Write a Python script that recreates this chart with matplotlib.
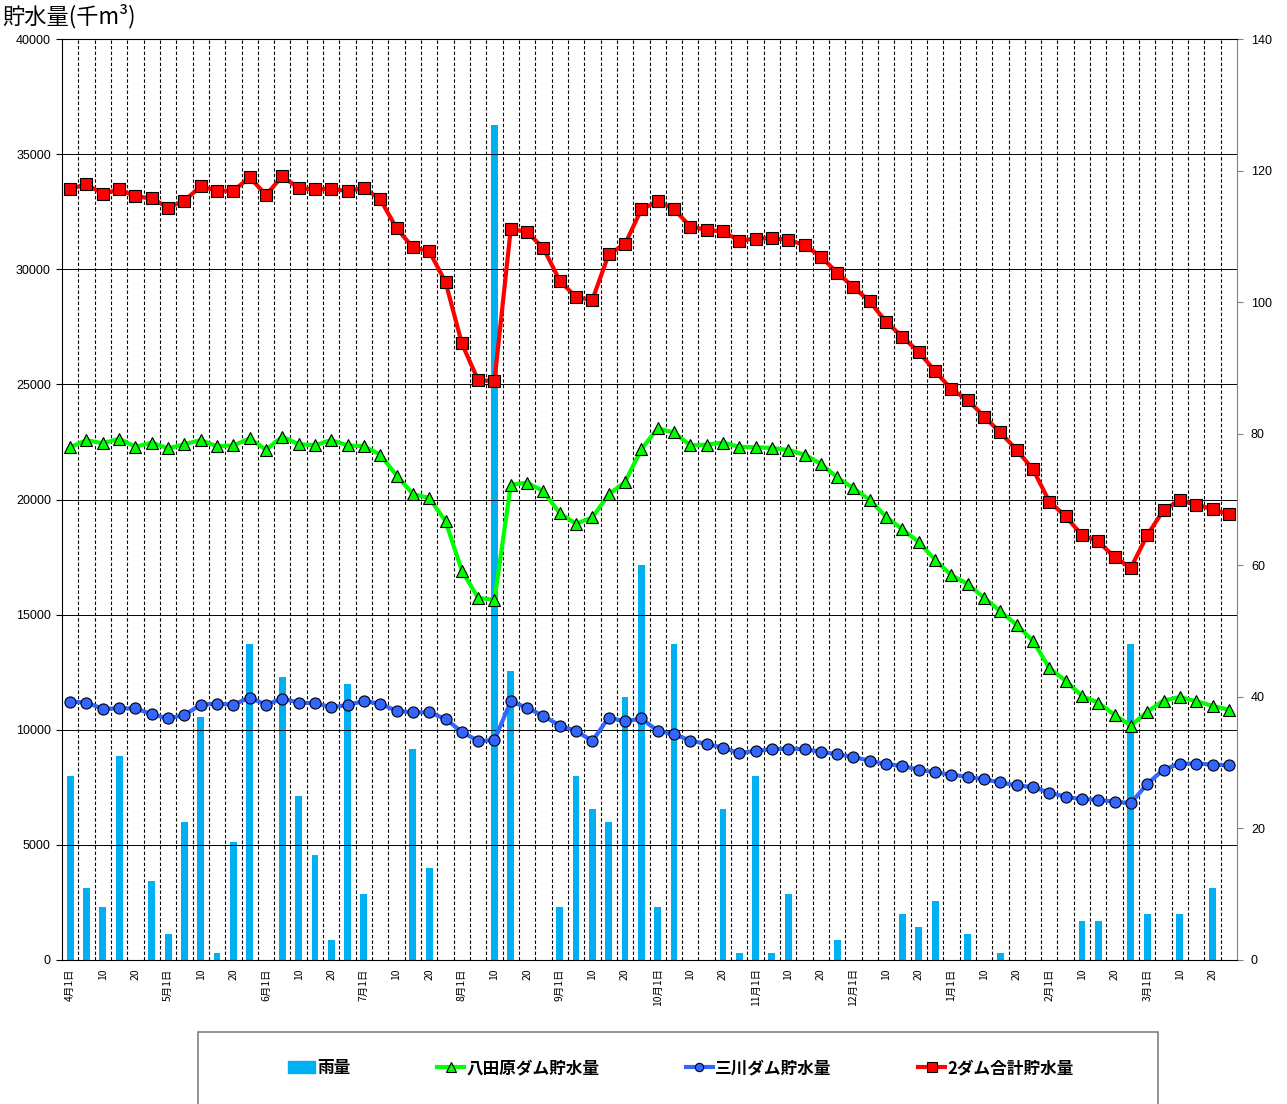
"""
Dam storage (Hattabara / Mikawa / total) and 5-day rainfall, April - March.
"""
import numpy as np
import matplotlib
matplotlib.use('Agg')
import matplotlib.pyplot as plt
from matplotlib.patches import Patch, Rectangle
from matplotlib.lines import Line2D

plt.rcParams['font.family'] = ['Liberation Sans', 'Noto Sans CJK JP']
JP = ['Noto Sans CJK JP', 'DejaVu Sans']

# Data: one value every 5 days (1, 5, 10, 15, 20, 25) from April 1
months = [4, 5, 6, 7, 8, 9, 10, 11, 12, 1, 2, 3]
day_labels = ['1日', '', '10', '', '20', '']

# 2ダム合計貯水量 (千m3)
total = [33490, 33690, 33270, 33470, 33160, 33090, 32670, 32980, 33600, 33420, 33400, 34000,
         33220, 34050, 33510, 33470, 33490, 33400, 33530, 33040, 31780, 30950, 30780, 29450,
         26780, 25180, 25150, 31760, 31620, 30910, 29510, 28780, 28670, 30650, 31090, 32600,
         32950, 32620, 31850, 31710, 31640, 31240, 31330, 31350, 31270, 31050, 30550, 29850,
         29220, 28600, 27710, 27070, 26400, 25580, 24780, 24330, 23600, 22910, 22150, 21310,
         19910, 19270, 18450, 18180, 17490, 17040, 18450, 19540, 19960, 19780, 19580, 19350]

# 八田原ダム貯水量 (千m3)
hattabara = [22270, 22580, 22440, 22640, 22290, 22470, 22220, 22400, 22580, 22310, 22350, 22650,
             22160, 22730, 22400, 22360, 22580, 22350, 22310, 21950, 21040, 20240, 20070, 19060,
             16910, 15730, 15640, 20640, 20730, 20360, 19400, 18950, 19220, 20220, 20760, 22180,
             23090, 22910, 22350, 22380, 22470, 22290, 22270, 22240, 22150, 21950, 21550, 20960,
             20490, 19980, 19240, 18710, 18150, 17380, 16710, 16330, 15730, 15150, 14550, 13860,
             12670, 12130, 11460, 11180, 10640, 10180, 10780, 11270, 11420, 11240, 11040, 10870]

# 三川ダム貯水量 (千m3)
mikawa = [11220, 11180, 10910, 10930, 10930, 10670, 10490, 10640, 11090, 11130, 11090, 11400,
          11090, 11350, 11180, 11150, 10980, 11070, 11250, 11130, 10820, 10750, 10760, 10470,
          9910, 9510, 9550, 11240, 10950, 10600, 10180, 9950, 9510, 10530, 10360, 10490,
          9950, 9800, 9530, 9380, 9220, 8980, 9090, 9150, 9180, 9150, 9050, 8930,
          8820, 8650, 8510, 8420, 8270, 8150, 8050, 7950, 7850, 7710, 7580, 7510,
          7270, 7090, 6980, 6960, 6870, 6820, 7650, 8270, 8530, 8530, 8490, 8450]

# 雨量 (mm)
rain = [28, 11, 8, 31, 0, 12, 4, 21, 37, 1, 18, 48,
        0, 43, 25, 16, 3, 42, 10, 0, 0, 32, 14, 0,
        0, 0, 127, 44, 0, 0, 8, 28, 23, 21, 40, 60,
        8, 48, 0, 0, 23, 1, 28, 1, 10, 0, 0, 3,
        0, 0, 0, 7, 5, 9, 0, 4, 0, 1, 0, 0,
        0, 0, 6, 6, 0, 48, 7, 0, 7, 0, 11, 0]

xlabels = []
for m in months:
    xlabels += [f'{m}月1日' if d == '1日' else d for d in day_labels]

x = np.arange(len(total))

W, H = 1287, 1104
fig = plt.figure(figsize=(W / 100, H / 100), dpi=100)
ax = fig.add_axes([62 / W, 1 - 960 / H, 1175 / W, 921 / H])
ax_r = ax.twinx()
ax.set_zorder(ax_r.get_zorder() + 1)
ax.patch.set_visible(False)

# rainfall bars on the right axis
ax_r.bar(x, rain, width=0.42, color='#00B0F0', zorder=2)
ax_r.set_ylim(0, 140)
ax_r.set_yticks(np.arange(0, 141, 20))
ax_r.tick_params(axis='y', length=4, color='gray', labelsize=9, pad=6)
ax_r.spines['right'].set_color('gray')
for s in ['left', 'top', 'bottom']:
    ax_r.spines[s].set_visible(False)

# storage lines
ax.plot(x, hattabara, color='#00FF00', lw=3, marker='^', ms=9,
        mfc='#00FF00', mec='black', mew=0.8, zorder=4)
ax.plot(x, mikawa, color='#3366FF', lw=3, marker='o', ms=8,
        mfc='#3366FF', mec='black', mew=0.8, zorder=4)
ax.plot(x, total, color='#FF0000', lw=3, marker='s', ms=9,
        mfc='#FF0000', mec='black', mew=0.8, zorder=5)

ax.set_xlim(-0.5, len(x) - 0.5)
ax.set_ylim(0, 40000)
ax.set_yticks(np.arange(0, 40001, 5000))
ax.tick_params(axis='y', length=4, labelsize=9, pad=4)
ax.grid(axis='y', color='black', lw=0.7)

ax.set_xticks(x)
ax.set_xticklabels(xlabels, rotation=90, fontsize=7.5, family=JP)
ax.set_xticks(np.arange(0.5, len(x) - 1, 1), minor=True)
ax.tick_params(axis='x', which='both', length=0, pad=6)
ax.grid(axis='x', which='minor', color='black', lw=0.8, ls=(0, (3, 2)))
ax.spines['right'].set_visible(False)

fig.text(2 / W, 1 - 16 / H, '貯水量(千m³)', fontsize=16, va='center', ha='left', family=JP)

# legend with box running off the bottom edge
handles = [Patch(color='#00B0F0'),
           Line2D([], [], color='#00FF00', lw=3, marker='^', ms=7, mfc='#00FF00', mec='black', mew=0.8),
           Line2D([], [], color='#3366FF', lw=3, marker='o', ms=6, mfc='#3366FF', mec='black', mew=0.8),
           Line2D([], [], color='#FF0000', lw=3, marker='s', ms=7, mfc='#FF0000', mec='black', mew=0.8)]
labels = ['雨量', '八田原ダム貯水量', '三川ダム貯水量', '2ダム合計貯水量']
fig.legend(handles, labels, loc='center', bbox_to_anchor=(681 / W, 1 - 1068 / H), ncol=4,
           frameon=False, prop={'family': JP, 'size': 12, 'weight': 'bold'},
           columnspacing=5.2, handlelength=1.6, handletextpad=0.15)
fig.add_artist(Rectangle((198 / W, -0.02), 960 / W, (H - 1032) / H + 0.02,
                         transform=fig.transFigure, fill=False, edgecolor='#808080', lw=1.2))

fig.savefig('out.png', dpi=100)
